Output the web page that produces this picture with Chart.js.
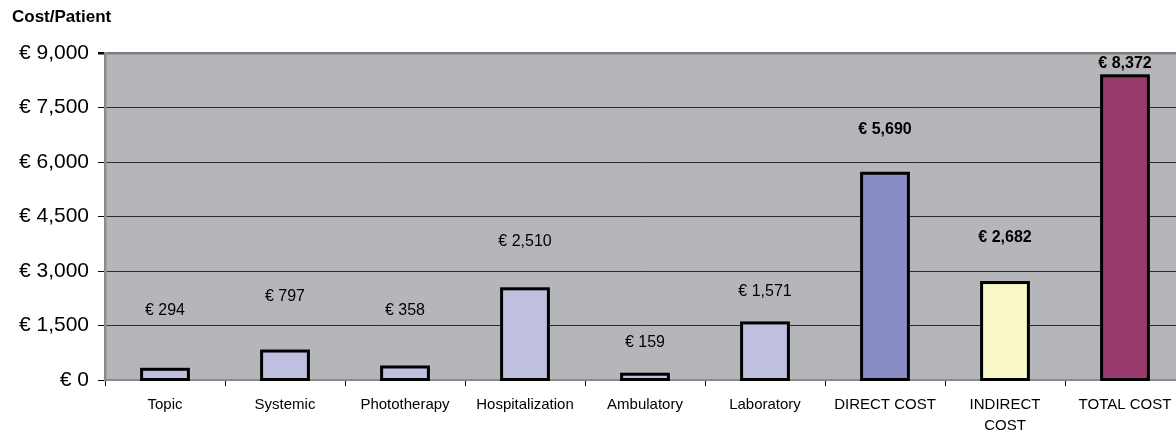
<!DOCTYPE html>
<html><head><meta charset="utf-8">
<script src="https://cdn.jsdelivr.net/npm/chart.js@4/dist/chart.umd.min.js"></script>
<style>html,body{margin:0;padding:0;overflow:hidden;background:#fff;width:1176px;height:435px}#wrap{width:1185px;height:435px}</style>
</head><body><div id="wrap"><canvas id="c" width="1185" height="435"></canvas></div>
<script>
const categories = ["Topic","Systemic","Phototherapy","Hospitalization","Ambulatory","Laboratory","DIRECT COST",["INDIRECT","COST"],"TOTAL COST"];
const costValues = [294, 797, 358, 2510, 159, 1571, 5690, 2682, 8372];
const yTicks = [0, 1500, 3000, 4500, 6000, 7500, 9000];
const boldLabel = [false,false,false,false,false,false,true,true,true];
// label offsets above bar top (px) - styling
const labelOffsets = [59, 54, 56, 47, 32, 31, 44, 45, 12];
const barColors = ["#BFBFDF","#BFBFDF","#BFBFDF","#BFBFDF","#BFBFDF","#BFBFDF","#8A8DC5","#F9F8C7","#993A6E"];

const FONT = "'Liberation Sans', Arial, sans-serif";
Chart.defaults.font.family = FONT;
Chart.defaults.color = "#000";

const fmt = v => "€ " + v.toLocaleString("en-US");

const bgPlugin = {
  id: "bg",
  beforeDraw(chart) {
    const {ctx, chartArea: a} = chart;
    ctx.save();
    ctx.fillStyle = "#B5B6BA";
    ctx.fillRect(a.left, a.top, a.right - a.left, a.bottom - a.top);
    ctx.fillStyle = "#000";
    ctx.font = "bold 17px " + FONT;
    ctx.textBaseline = "middle";
    ctx.fillText("Cost/Patient", 12, 17);
    ctx.restore();
  },
  afterDatasetsDraw(chart) {
    const {ctx} = chart;
    const meta = chart.getDatasetMeta(0);
    ctx.save();
    ctx.strokeStyle = "#000";
    ctx.lineWidth = 3;
    meta.data.forEach((el) => {
      const p = el.getProps(["x", "y", "base", "width"], true);
      ctx.strokeRect(p.x - p.width / 2, p.y, p.width, p.base - p.y);
    });
    ctx.textAlign = "center";
    ctx.textBaseline = "middle";
    ctx.fillStyle = "#000";
    meta.data.forEach((el, i) => {
      ctx.font = (boldLabel[i] ? "bold " : "") + "16px " + FONT;
      ctx.fillText(fmt(costValues[i]), el.x, el.y - labelOffsets[i]);
    });
    ctx.restore();
  }
};

new Chart(document.getElementById("c"), {
  type: "bar",
  data: {
    labels: categories,
    datasets: [{
      data: costValues,
      backgroundColor: barColors,
      borderWidth: 0,
      barPercentage: 0.39,
      categoryPercentage: 1
    }]
  },
  options: {
    responsive: false,
    animation: false,
    layout: { padding: { top: 53, left: 0, right: 0, bottom: 0 } },
    plugins: { legend: { display: false }, tooltip: { enabled: false } },
    scales: {
      x: {
        grid: { offset: true, drawOnChartArea: false, tickLength: 6, tickColor: "#000", tickWidth: 1 },
        border: { color: "#8A8A8A", width: 2 },
        ticks: { font: { size: 15, lineHeight: 1.4 }, padding: 8, maxRotation: 0, autoSkip: false },
        afterFit(s) { s.height = 55; }
      },
      y: {
        min: 0, max: 9000,
        afterBuildTicks(s) { s.ticks = yTicks.map(v => ({ value: v })); },
        grid: {
          color: ctx => (ctx.tick && (ctx.tick.value === 9000 || ctx.tick.value === 0)) ? "#7F7F7F" : "#2a2a2a",
          lineWidth: ctx => (ctx.tick && ctx.tick.value === 9000) ? 2.5 : 1,
          tickColor: "#000",
          tickLength: 7
        },
        border: { color: "#8A8A8A", width: 2.5 },
        ticks: { font: { size: 21 }, padding: 9, callback: v => fmt(v) },
        afterFit(s) { s.width = 105; }
      }
    }
  },
  plugins: [bgPlugin]
});
</script>
</body></html>
